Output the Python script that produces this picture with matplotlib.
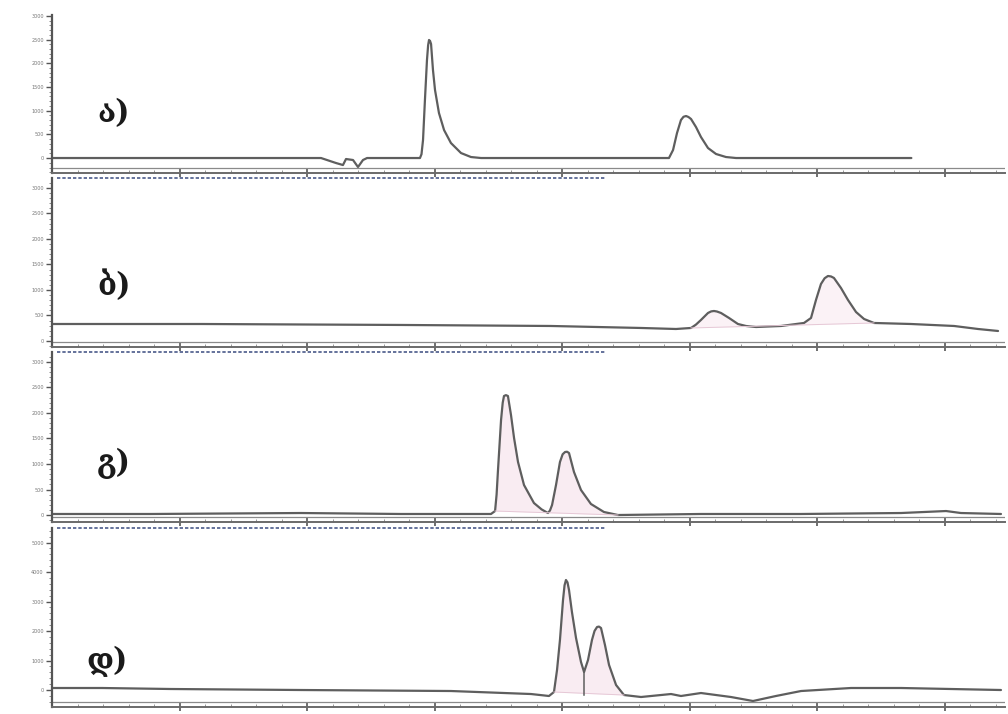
import matplotlib
matplotlib.use("Agg")
import matplotlib.pyplot as plt
import numpy as np
from matplotlib.ticker import MultipleLocator

plt.rcParams['font.family'] = ['DejaVu Sans']

# ---- data (retention time in min, signal) ----
labels = ["ა)", "ბ)", "გ)", "დ)"]

t_a = [0.0, 1.0, 2.11, 2.227, 2.282, 2.306, 2.361, 2.40, 2.439, 2.471, 2.886, 2.898, 2.910, 2.925,
       2.941, 2.950, 2.957, 2.965, 2.973, 2.988, 3.004, 3.035, 3.075, 3.129, 3.208, 3.286, 3.365, 4.0,
       4.839, 4.871, 4.902, 4.933, 4.953, 4.973, 4.992, 5.012, 5.051, 5.090, 5.145, 5.208, 5.286, 5.365, 6.74]
s_a = [0, 0, 0, -105, -148, -21, -42, -190, -42, 0, 0, 80, 379, 1224,
       2068, 2380, 2490, 2470, 2405, 1857, 1435, 949, 590, 316, 105, 21, 0, 0,
       0, 169, 527, 801, 870, 886, 865, 823, 653, 443, 211, 85, 21, 0, 0]

t_b = [0.008, 1.169, 2.737, 3.914, 4.620, 4.894, 5.012, 5.050, 5.090, 5.145, 5.170, 5.192, 5.215,
       5.247, 5.310, 5.380, 5.443, 5.522, 5.718, 5.898, 5.953, 5.992, 6.031, 6.060, 6.086, 6.110,
       6.133, 6.188, 6.243, 6.306, 6.369, 6.447, 6.737, 7.075, 7.263, 7.420]
s_b = [333, 333, 314, 294, 255, 235, 255, 320, 412, 549, 580, 588, 578,
       549, 451, 333, 294, 274, 294, 353, 451, 804, 1117, 1230, 1274, 1265,
       1235, 1039, 804, 568, 431, 353, 333, 294, 235, 196]

t_c = [0.008, 0.776, 1.953, 2.737, 3.365, 3.443, 3.475, 3.487, 3.498, 3.522, 3.535, 3.545, 3.560,
       3.576, 3.600, 3.624, 3.655, 3.702, 3.780, 3.840, 3.890, 3.906, 3.922, 3.953, 3.984, 4.005,
       4.024, 4.040, 4.055, 4.094, 4.149, 4.227, 4.329, 4.439, 5.090, 5.875, 6.659, 7.012, 7.129, 7.443]
s_c = [20, 20, 39, 20, 20, 20, 78, 400, 882, 1862, 2200, 2332, 2350,
       2332, 1960, 1509, 1039, 588, 235, 110, 39, 90, 196, 588, 1039, 1190,
       1235, 1240, 1215, 843, 490, 216, 59, 0, 20, 20, 39, 78, 39, 20]

t_d = [0.008, 0.392, 0.933, 1.953, 3.129, 3.757, 3.898, 3.937, 3.961, 3.984, 4.008, 4.020, 4.031,
       4.043, 4.055, 4.078, 4.110, 4.149, 4.173, 4.204, 4.235, 4.255, 4.275, 4.290, 4.306, 4.337,
       4.369, 4.424, 4.486, 4.620, 4.855, 4.933, 5.090, 5.325, 5.498, 5.678, 5.875, 6.267, 6.659,
       7.051, 7.443]
s_d = [68, 68, 34, 0, -34, -136, -203, -68, 678, 1695, 3051, 3550, 3729,
       3650, 3390, 2644, 1763, 949, 610, 1017, 1695, 2000, 2136, 2150, 2102, 1526,
       848, 170, -170, -237, -136, -203, -102, -237, -373, -203, -34, 68, 68,
       34, 0]

yticks_abc = [0, 500, 1000, 1500, 2000, 2500, 3000]
yticks_d = [0, 1000, 2000, 3000, 4000, 5000]
xticks = [1, 2, 3, 4, 5, 6, 7]

# ---- layout ----
W, H = 1008, 714
fig = plt.figure(figsize=(W / 100, H / 100), dpi=100)
fig.patch.set_facecolor('white')

panels = [
    # (top px, bottom px, y-lim, ticks, t, s, label pos (px x, px y), fill range, fill alpha)
    (15, 173, (-316, 3017), yticks_abc, t_a, s_a, (97, 114), (2.88, 3.37), 0.0),
    (178, 347, (-118, 3195), yticks_abc, t_b, s_b, (97, 286), (4.99, 6.45), 0.35),
    (352, 522, (-137, 3195), yticks_abc, t_c, s_c, (97, 463), (3.47, 4.44), 0.5),
    (528, 707, (-576, 5492), yticks_d, t_d, s_d, (86, 661), (3.93, 4.49), 0.5),
]

line_col = '#5e5e5e'
x_left, x_right = 52, 1005
for i, (pt, pb, ylim, yt, t, s, lpos, frng, falpha) in enumerate(panels):
    ax = fig.add_axes([x_left / W, 1 - pb / H, (x_right - x_left) / W, (pb - pt) / H])
    ax.set_xlim(0, (x_right - x_left) / 127.5)
    ax.set_ylim(*ylim)
    t_arr = np.array(t)
    s_arr = np.array(s)
    ax.plot(t_arr, s_arr, color=line_col, lw=1.6, solid_joinstyle='round', solid_capstyle='round')
    if falpha > 0:
        m = (t_arr >= frng[0]) & (t_arr <= frng[1])
        base = np.interp(t_arr[m], [t_arr[m][0], t_arr[m][-1]], [s_arr[m][0], s_arr[m][-1]])
        ax.fill_between(t_arr[m], s_arr[m], base, color='#f4dbe6', alpha=falpha, lw=0)
        ax.plot([t_arr[m][0], t_arr[m][-1]], [s_arr[m][0], s_arr[m][-1]], color='#e6c8d6', lw=0.7)
    if i == 3:
        k = t.index(4.173)
        ax.plot([t[k], t[k]], [ylim[0] * 0.3, s[k]], color=line_col, lw=1.1)

    # spines
    for sp in ['top', 'right']:
        ax.spines[sp].set_visible(False)
    ax.spines['left'].set_color('#555555')
    ax.spines['left'].set_linewidth(1.6)
    ax.spines['bottom'].set_color('#6a6a6a')
    ax.spines['bottom'].set_linewidth(1.4)
    # second thin line of the x axis
    ax.axhline(ylim[0] + (ylim[1] - ylim[0]) * (5 / (pb - pt)), color='#8a8a8a', lw=0.9)
    if i > 0:
        ax.plot([0.005, 0.58], [1.0, 1.0], transform=ax.transAxes, color='#4a5a8a',
                lw=1.2, ls=(0, (2, 1.2)), clip_on=False)

    ax.set_yticks(yt)
    ax.set_yticklabels([str(v) for v in yt])
    ax.yaxis.set_minor_locator(MultipleLocator(yt[1] / 5))
    ax.tick_params(axis='y', which='major', direction='out', length=4, width=1,
                   labelsize=3.5, labelcolor='#777777', color='#555555', pad=2)
    ax.tick_params(axis='y', which='minor', direction='out', length=2, width=0.6, color='#777777')
    ax.set_xticks(xticks)
    ax.set_xticklabels([])
    ax.xaxis.set_minor_locator(MultipleLocator(0.2))
    ax.tick_params(axis='x', which='major', direction='inout', length=6, width=1.2, color='#555555')
    ax.tick_params(axis='x', which='minor', direction='in', length=2, width=0.6, color='#888888')

    fig.text(lpos[0] / W, 1 - lpos[1] / H, labels[i], fontsize=22, fontweight='bold',
             family=['DejaVu Serif', 'DejaVu Sans'], color='#1a1a1a', ha='left', va='center')

fig.savefig('out.png', dpi=100, facecolor='white')
